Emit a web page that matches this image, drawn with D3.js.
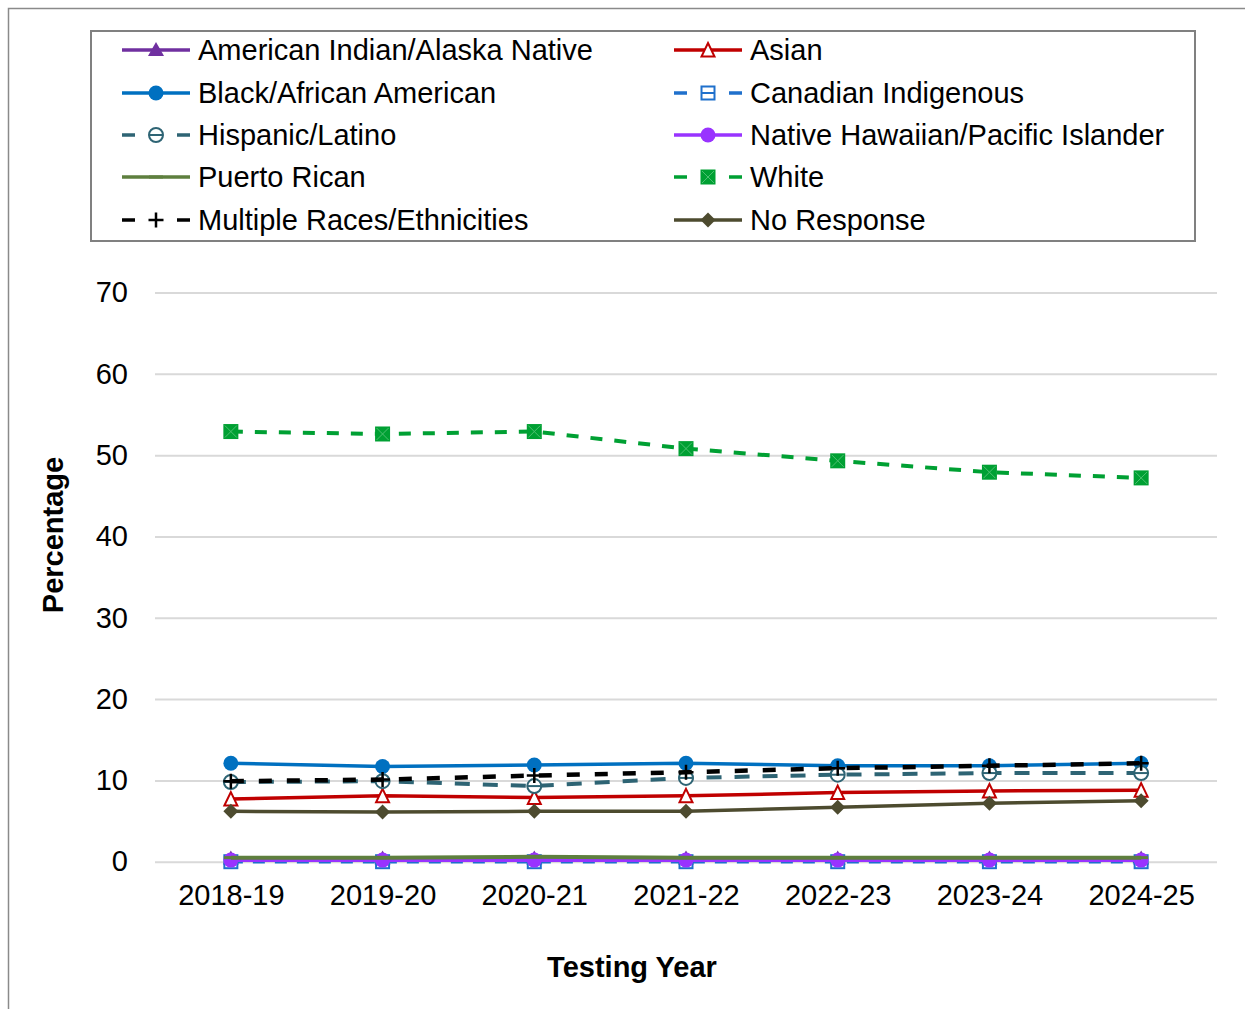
<!DOCTYPE html>
<html>
<head>
<meta charset="utf-8">
<script src="https://cdn.jsdelivr.net/npm/d3@7"></script>
<style>
  html, body { margin: 0; padding: 0; background: #fff; }
  svg text { font-family: "Liberation Sans", Arial, sans-serif; fill: #000; }
</style>
</head>
<body>
<div class="line-graph"></div>
<script>
// data
var years = ["2018-19", "2019-20", "2020-21", "2021-22", "2022-23", "2023-24", "2024-25"];
var yTicks = [0, 10, 20, 30, 40, 50, 60, 70];

var americanIndian = [0.4, 0.4, 0.4, 0.4, 0.4, 0.4, 0.4];
var asian = [7.7, 8.1, 7.9, 8.1, 8.5, 8.7, 8.8];
var black = [12.1, 11.7, 11.9, 12.1, 11.8, 11.8, 12.1];
var canadianIndigenous = [0.0, 0.0, 0.0, 0.0, 0.0, 0.0, 0.0];
var hispanic = [9.8, 9.9, 9.3, 10.3, 10.7, 10.9, 10.9];
var nativeHawaiian = [0.2, 0.2, 0.2, 0.2, 0.2, 0.2, 0.2];
var puertoRican = [0.5, 0.5, 0.6, 0.5, 0.5, 0.5, 0.5];
var white = [52.9, 52.6, 52.9, 50.8, 49.3, 47.9, 47.2];
var multiple = [9.9, 10.1, 10.6, 11.0, 11.5, 11.8, 12.1];
var noResponse = [6.2, 6.1, 6.2, 6.2, 6.7, 7.2, 7.5];

// series styles (draw order = Excel series order)
var series = [
  {name: "American Indian/Alaska Native", values: americanIndian, color: "#7030A0", dash: null, width: 3.5, marker: "triangle"},
  {name: "Asian", values: asian, color: "#C00000", dash: null, width: 3.5, marker: "triangleOpen"},
  {name: "Black/African American", values: black, color: "#0070C0", dash: null, width: 3.5, marker: "circle"},
  {name: "Canadian Indigenous", values: canadianIndigenous, color: "#1F70CC", dash: "12,10", width: 3.5, marker: "squareBar"},
  {name: "Hispanic/Latino", values: hispanic, color: "#2E6474", dash: "15,13", width: 4, marker: "circleBar"},
  {name: "Native Hawaiian/Pacific Islander", values: nativeHawaiian, color: "#9933FF", dash: null, width: 4, marker: "circle"},
  {name: "Puerto Rican", values: puertoRican, color: "#5E7F3E", dash: null, width: 4, marker: "dash"},
  {name: "White", values: white, color: "#00A033", dash: "12,12", width: 4, marker: "squareX"},
  {name: "Multiple Races/Ethnicities", values: multiple, color: "#000000", dash: "13,15", width: 4.5, marker: "plus"},
  {name: "No Response", values: noResponse, color: "#4D4B2F", dash: null, width: 3.5, marker: "diamond"}
];

var W = 1245, H = 1009;
var plot = {left: 155, right: 1217, top: 292.5, bottom: 861.7};

var svg = d3.select(".line-graph").append("svg")
    .attr("width", W)
    .attr("height", H);

// outer chart frame (runs off the right and bottom edge)
svg.append("path")
    .attr("d", "M8.5," + (H + 5) + "V8.5H" + (W + 5))
    .style("fill", "none")
    .style("stroke", "#8a8a8a")
    .style("stroke-width", 1.5);

var x = d3.scalePoint().domain(years).range([plot.left, plot.right]).padding(0.5);
var y = d3.scaleLinear().domain([0, 70]).range([plot.bottom, plot.top]);

// gridlines + y labels
var yAxis = svg.append("g")
    .attr("transform", "translate(" + plot.left + ",0)")
    .call(d3.axisLeft(y).tickValues(yTicks).tickSize(-(plot.right - plot.left)).tickPadding(27));
yAxis.select(".domain").remove();
yAxis.selectAll(".tick line").style("stroke", "#d9d9d9").style("stroke-width", 2);
yAxis.selectAll(".tick text").style("font-size", "29px").style("font-family", "Liberation Sans, Arial, sans-serif").attr("fill", "#000");

// x labels
var xAxis = svg.append("g")
    .attr("transform", "translate(0," + plot.bottom + ")")
    .call(d3.axisBottom(x).tickSize(0).tickPadding(23));
xAxis.select(".domain").remove();
xAxis.selectAll(".tick text").style("font-size", "29px").style("font-family", "Liberation Sans, Arial, sans-serif").attr("fill", "#000");

// axis titles
svg.append("text")
    .attr("transform", "translate(63,535) rotate(-90)")
    .attr("text-anchor", "middle")
    .style("font-size", "29px")
    .style("font-weight", "bold")
    .text("Percentage");

svg.append("text")
    .attr("x", 632)
    .attr("y", 977)
    .attr("text-anchor", "middle")
    .style("font-size", "29px")
    .style("font-weight", "bold")
    .text("Testing Year");

// marker drawing
function drawMarker(g, type, color) {
  if (type === "triangle") {
    g.append("path").attr("d", "M0,-8L8,6H-8Z").style("fill", color);
  } else if (type === "triangleOpen") {
    g.append("path").attr("d", "M0,-7L6.5,6.5H-6.5Z").style("fill", "#fff").style("stroke", color).style("stroke-width", 2);
  } else if (type === "circle") {
    g.append("circle").attr("r", 7.5).style("fill", color);
  } else if (type === "circleBar") {
    g.append("circle").attr("r", 7).style("fill", "#fff").style("stroke", color).style("stroke-width", 2);
    g.append("path").attr("d", "M-7,0H7").style("stroke", color).style("stroke-width", 2);
  } else if (type === "squareBar") {
    g.append("rect").attr("x", -6.5).attr("y", -6.5).attr("width", 13).attr("height", 13)
        .style("fill", "#fff").style("stroke", color).style("stroke-width", 2);
    g.append("path").attr("d", "M-6.5,0H6.5").style("stroke", color).style("stroke-width", 2);
  } else if (type === "squareX") {
    g.append("rect").attr("x", -7.5).attr("y", -7.5).attr("width", 15).attr("height", 15).style("fill", color);
    g.append("path").attr("d", "M-6,-6L6,6M6,-6L-6,6").style("stroke", "#4cc070").style("stroke-width", 1);
  } else if (type === "plus") {
    g.append("path").attr("d", "M-7.5,0H7.5M0,-7.5V7.5").style("stroke", color).style("stroke-width", 2.5);
  } else if (type === "diamond") {
    g.append("path").attr("d", "M0,-7.5L7.5,0L0,7.5L-7.5,0Z").style("fill", color);
  } else if (type === "dash") {
    g.append("path").attr("d", "M-7,0H7").style("stroke", color).style("stroke-width", 3);
  }
}

var valueline = d3.line()
    .x(function(d, i) { return x(years[i]); })
    .y(function(d) { return y(d); });

series.forEach(function(s) {
  var g = svg.append("g");
  g.append("path")
      .data([s.values])
      .attr("d", valueline)
      .style("fill", "none")
      .style("stroke", s.color)
      .style("stroke-width", s.width)
      .style("stroke-dasharray", s.dash);
  s.values.forEach(function(v, i) {
    var m = g.append("g").attr("transform", "translate(" + x(years[i]) + "," + y(v) + ")");
    drawMarker(m, s.marker, s.color);
  });
});

// legend
svg.append("rect")
    .attr("x", 91).attr("y", 31)
    .attr("width", 1104).attr("height", 210)
    .style("fill", "#fff")
    .style("stroke", "#808080")
    .style("stroke-width", 2);

var legendCols = [122, 674];
var legendRows = [50, 93, 135, 177, 220];

series.forEach(function(s, i) {
  var lx = legendCols[i % 2], ly = legendRows[Math.floor(i / 2)];
  var g = svg.append("g").attr("transform", "translate(" + lx + "," + ly + ")");
  g.append("path")
      .attr("d", "M0,0H68")
      .style("stroke", s.color)
      .style("stroke-width", 3.5)
      .style("stroke-dasharray", s.dash ? "13,42" : null)
      .style("fill", "none");
  drawMarker(g.append("g").attr("transform", "translate(34,0)"), s.marker, s.color);
  g.append("text")
      .attr("x", 76)
      .attr("y", 10)
      .style("font-size", "29px")
      .text(s.name);
});
</script>
</body>
</html>
